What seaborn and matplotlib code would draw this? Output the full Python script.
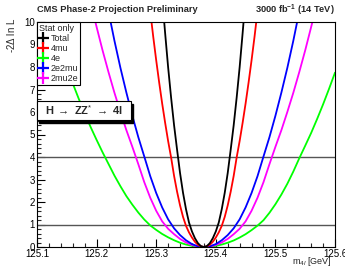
import matplotlib
matplotlib.use("Agg")
import matplotlib.pyplot as plt
from matplotlib.lines import Line2D
from matplotlib.patches import Rectangle
from matplotlib.ticker import MultipleLocator
import pandas as pd
import seaborn as sns

# Courbes -2 Delta ln L
total_x = [125.310, 125.315, 125.320, 125.325, 125.330, 125.335, 125.340, 125.345, 125.350, 125.355,
           125.360, 125.365, 125.370, 125.375, 125.380, 125.385, 125.390, 125.395, 125.400, 125.405,
           125.410, 125.415, 125.420, 125.425, 125.430, 125.435, 125.440, 125.445, 125.450]
total_y = [11.1, 9.5, 7.99, 6.64, 5.41, 4.33, 3.29, 2.41, 1.68, 1.09, 0.69, 0.39, 0.17, 0.04, 0.0,
           0.04, 0.17, 0.39, 0.69, 1.09, 1.68, 2.41, 3.29, 4.33, 5.41, 6.64, 7.99, 9.5, 11.1]

mu4_x = [125.285, 125.290, 125.295, 125.300, 125.305, 125.310, 125.315, 125.320, 125.325, 125.330,
         125.335, 125.340, 125.345, 125.350, 125.355, 125.360, 125.365, 125.370, 125.375, 125.380,
         125.385, 125.390, 125.395, 125.400, 125.405, 125.410, 125.415, 125.420, 125.425, 125.430,
         125.435, 125.440, 125.445, 125.450, 125.455, 125.460, 125.465, 125.470, 125.475]
mu4_y = [11.65, 10.48, 9.35, 8.3, 7.31, 6.38, 5.52, 4.71, 3.98, 3.16, 2.46, 1.85, 1.34, 0.94, 0.65,
         0.42, 0.23, 0.10, 0.03, 0.0, 0.03, 0.10, 0.23, 0.42, 0.65, 0.94, 1.34, 1.85, 2.46, 3.16,
         3.98, 4.71, 5.52, 6.38, 7.31, 8.3, 9.35, 10.48, 11.65]

e4_x = [125.10, 125.11, 125.12, 125.13, 125.14, 125.15, 125.16, 125.17, 125.18, 125.19,
        125.20, 125.21, 125.22, 125.23, 125.24, 125.25, 125.26, 125.27, 125.28, 125.29,
        125.30, 125.31, 125.32, 125.33, 125.34, 125.35, 125.36, 125.37, 125.38, 125.39,
        125.40, 125.41, 125.42, 125.43, 125.44, 125.45, 125.46, 125.47, 125.48, 125.49,
        125.50, 125.51, 125.52, 125.53, 125.54, 125.55, 125.56, 125.57, 125.58, 125.59, 125.60]
e4_y = [12.1, 11.2, 10.34, 9.52, 8.74, 7.98, 7.27, 6.59, 5.94, 5.33, 4.76, 4.21, 3.69, 3.17, 2.70,
        2.26, 1.88, 1.53, 1.22, 0.96, 0.76, 0.58, 0.43, 0.30, 0.19, 0.11, 0.05, 0.01, 0.0,
        0.01, 0.05, 0.11, 0.19, 0.29, 0.42, 0.57, 0.75, 0.95, 1.19, 1.52, 1.90, 2.33, 2.81,
        3.35, 3.94, 4.50, 5.07, 5.69, 6.34, 7.03, 7.75]

e2mu2_x = [125.21, 125.22, 125.23, 125.24, 125.25, 125.26, 125.27, 125.28, 125.29, 125.30,
           125.31, 125.32, 125.33, 125.34, 125.35, 125.36, 125.37, 125.38, 125.39, 125.40,
           125.41, 125.42, 125.43, 125.44, 125.45, 125.46, 125.47, 125.48, 125.49, 125.50,
           125.51, 125.52, 125.53, 125.54, 125.55]
e2mu2_y = [11.8, 10.46, 9.16, 7.96, 6.86, 5.83, 4.88, 4.02, 3.15, 2.40, 1.76, 1.23, 0.83, 0.53,
           0.30, 0.13, 0.03, 0.0, 0.03, 0.13, 0.30, 0.53, 0.83, 1.23, 1.76, 2.40, 3.15, 4.02,
           4.88, 5.83, 6.86, 7.96, 9.16, 10.46, 11.8]

mu2e2_x = [125.19, 125.20, 125.21, 125.22, 125.23, 125.24, 125.25, 125.26, 125.27, 125.28,
           125.29, 125.30, 125.31, 125.32, 125.33, 125.34, 125.35, 125.36, 125.37, 125.38,
           125.39, 125.40, 125.41, 125.42, 125.43, 125.44, 125.45, 125.46, 125.47, 125.48,
           125.49, 125.50, 125.51, 125.52, 125.53, 125.54, 125.55, 125.56, 125.57]
mu2e2_y = [10.85, 9.78, 8.74, 7.77, 6.85, 6.0, 5.19, 4.45, 3.68, 2.88, 2.19, 1.61, 1.14, 0.81,
           0.57, 0.36, 0.20, 0.09, 0.02, 0.0, 0.02, 0.09, 0.20, 0.36, 0.57, 0.81, 1.14, 1.61,
           2.19, 2.88, 3.68, 4.45, 5.19, 6.0, 6.85, 7.77, 8.74, 9.78, 10.85]

channels = ["Total", "4mu", "4e", "2e2mu", "2mu2e"]
colors = {"Total": "black", "4mu": "#ff0000", "4e": "#00ff00", "2e2mu": "#0000ff", "2mu2e": "#ff00ff"}
draw_order = ["4e", "2mu2e", "2e2mu", "4mu", "Total"]

x_ticks = [125.1, 125.2, 125.3, 125.4, 125.5, 125.6]
y_ticks = list(range(0, 11))

curves = {
    "Total": (total_x, total_y),
    "4mu": (mu4_x, mu4_y),
    "4e": (e4_x, e4_y),
    "2e2mu": (e2mu2_x, e2mu2_y),
    "2mu2e": (mu2e2_x, mu2e2_y),
}
rows = []
for name, (xs, ys) in curves.items():
    for xv, yv in zip(xs, ys):
        rows.append({"m4l": xv, "nll": yv, "channel": name})
df = pd.DataFrame(rows)

sns.set_style("ticks", {"xtick.direction": "in", "ytick.direction": "in"})
plt.rcParams["font.family"] = ["Liberation Sans", "DejaVu Sans"]
plt.rcParams["mathtext.fontset"] = "custom"
plt.rcParams["mathtext.rm"] = "Liberation Sans"
plt.rcParams["mathtext.bf"] = "Liberation Sans:bold"
plt.rcParams["mathtext.it"] = "Liberation Sans:italic"

fig = plt.figure(figsize=(3.45, 2.67), dpi=100)
ax = fig.add_axes([37 / 345, 20 / 267, 298 / 345, 225 / 267])

sns.lineplot(data=df, x="m4l", y="nll", hue="channel", hue_order=draw_order,
             palette=colors, estimator=None, sort=False, legend=False, lw=1.3, ax=ax)

ax.axhline(1, color="#555555", lw=1.0, zorder=1)
ax.axhline(4, color="#555555", lw=1.0, zorder=1)

ax.set_xlim(125.1, 125.6)
ax.set_ylim(0, 10)
ax.set_xticks(x_ticks)
ax.set_xticklabels([f"{t:.1f}" for t in x_ticks])
ax.set_yticks(y_ticks)
ax.xaxis.set_minor_locator(MultipleLocator(0.02))
ax.yaxis.set_minor_locator(MultipleLocator(0.2))
ax.tick_params(which="major", length=6, width=0.8, labelsize=7, pad=1.5, colors="black")
ax.tick_params(which="minor", length=3, width=0.8)
for sp in ax.spines.values():
    sp.set_linewidth(0.8)
    sp.set_color("black")
ax.set_xlabel("")
ax.set_ylabel("")

# Légende style ROOT
handles = [Line2D([0], [0], color=colors[c], marker="+", markersize=8, mew=1.6, linestyle="none")
           for c in channels]
leg = ax.legend(handles, channels, title="Stat only", loc="upper left", bbox_to_anchor=(0, 1),
                fontsize=6.5, title_fontsize=6.5, frameon=True, fancybox=False, framealpha=1,
                edgecolor="black", borderpad=0.2, labelspacing=0.12, handlelength=1.0,
                handletextpad=0.3, borderaxespad=0, alignment="left")
leg.get_frame().set_linewidth(0.8)

# Boîte H -> ZZ* -> 4l
box_x0, box_y0, box_w, box_h = 0.0, 0.565, 0.315, 0.085
ax.add_patch(Rectangle((box_x0 + 0.008, box_y0 - 0.014), box_w, box_h, transform=ax.transAxes,
                       facecolor="black", edgecolor="black", zorder=5, clip_on=False))
ax.add_patch(Rectangle((box_x0, box_y0), box_w, box_h, transform=ax.transAxes,
                       facecolor="white", edgecolor="black", lw=0.8, zorder=6, clip_on=False))
ax.text(box_x0 + box_w / 2, box_y0 + box_h / 2, r"H $\rightarrow$ ZZ$^{*}$ $\rightarrow$ 4l",
        transform=ax.transAxes, ha="center", va="center", fontsize=8, fontweight="bold", zorder=7)

fig.text(37 / 345, 1 - 10 / 267, "CMS Phase-2 Projection Preliminary", ha="left", va="center",
         fontsize=6.7, fontweight="bold")
fig.text(335 / 345, 1 - 10 / 267, r"3000 fb$^{\mathbf{-1}}$ (14 TeV)", ha="right", va="center",
         fontsize=6.7, fontweight="bold")
fig.text(11 / 345, 1 - 18 / 267, r"-2$\Delta$ ln L", rotation=90, ha="center", va="top", fontsize=7)
fig.text(332 / 345, 1 - 261 / 267, r"m$_{4l}$ [GeV]", ha="right", va="center", fontsize=6.5)

fig.savefig("out.png", dpi=100)
